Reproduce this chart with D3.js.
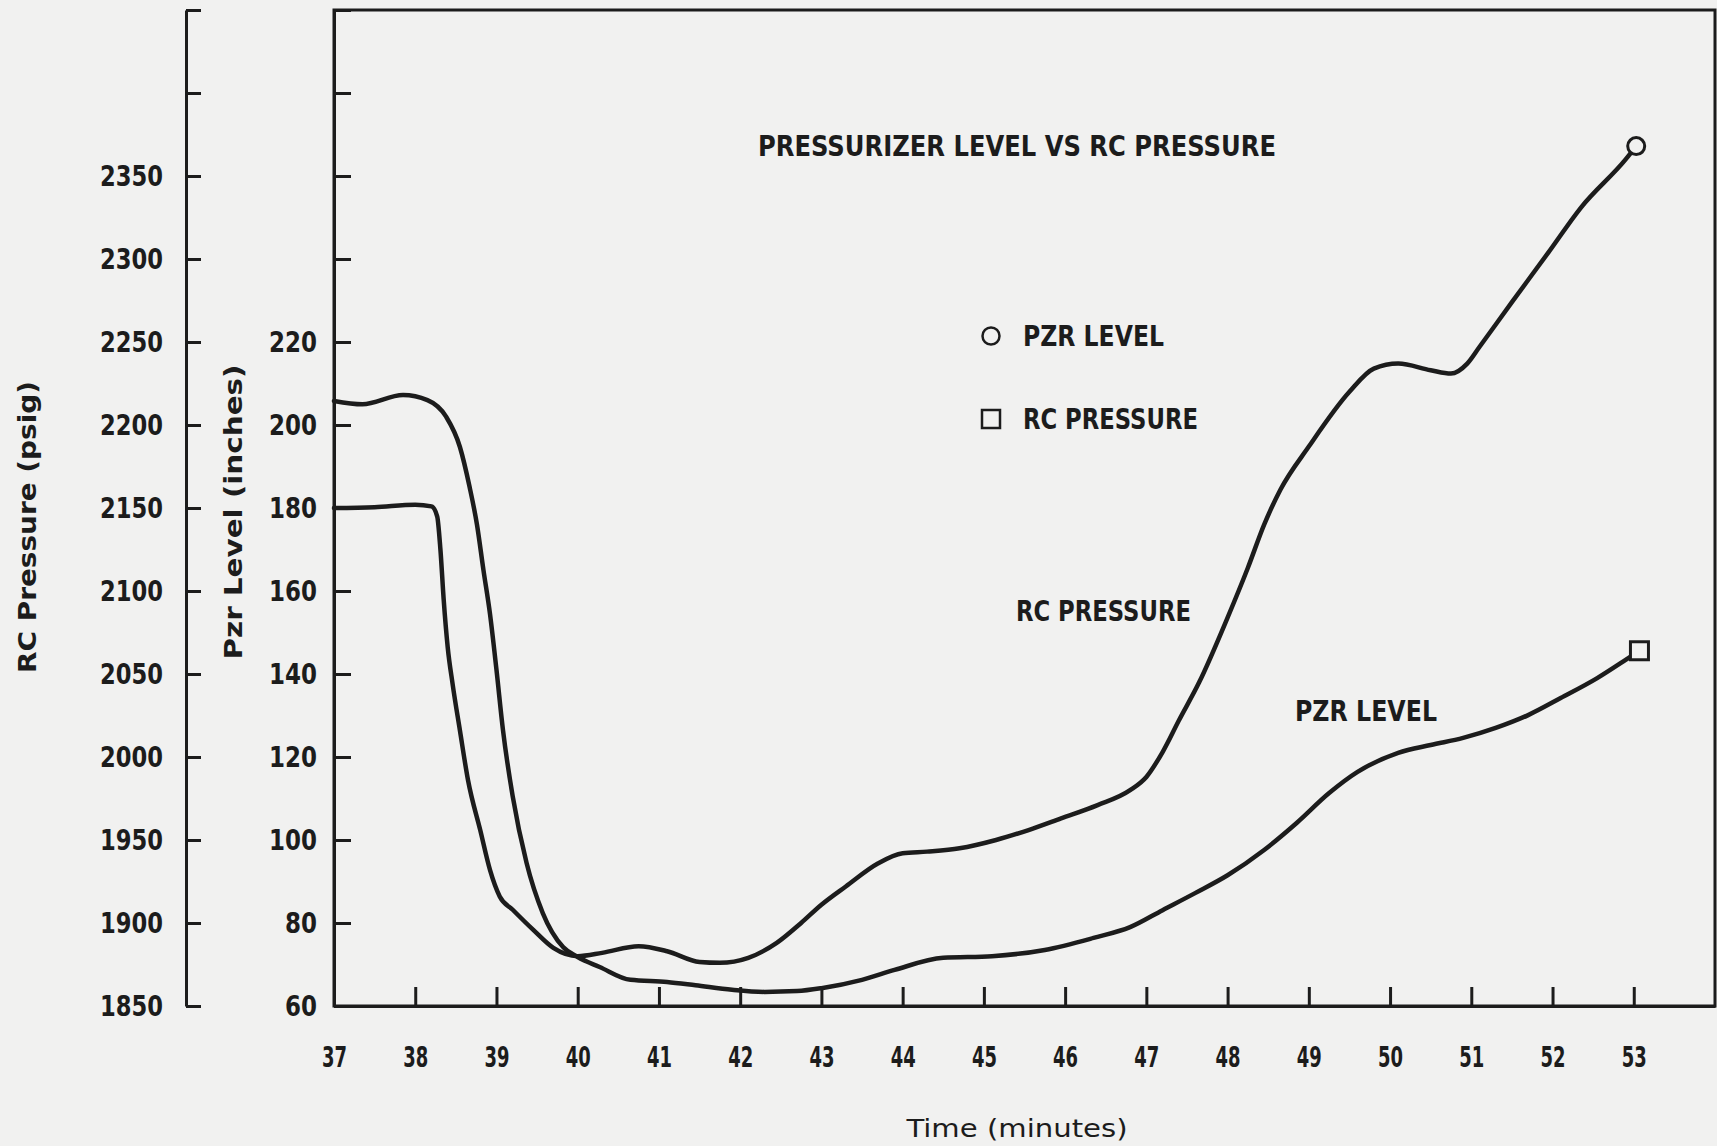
<!DOCTYPE html>
<html>
<head>
<meta charset="utf-8">
<script src="https://cdn.jsdelivr.net/npm/d3@7"></script>
<style>
  html, body { margin: 0; padding: 0; background: #f1f1f0; }
  svg { display: block; }
</style>
</head>
<body>
<svg id="chart" width="1717" height="1146"></svg>
<script>
// ---- data ----
const rcTime = [37.0, 37.5, 38.0, 38.2, 38.27, 38.31, 38.35, 38.4, 38.46, 38.55, 38.65, 38.8, 38.92, 39.04, 39.2, 39.45, 39.7, 40.0, 40.3, 40.75, 41.1, 41.5, 41.75, 42.1, 42.45, 42.75, 43.0, 43.3, 43.7, 44.0, 44.3, 44.7, 45.15, 45.55, 45.95, 46.4, 46.8, 47.0, 47.2, 47.4, 47.65, 48.0, 48.25, 48.45, 48.65, 49.0, 49.5, 49.8, 50.1, 50.5, 50.75, 50.95, 51.1, 51.5, 51.95, 52.35, 52.9, 53.03];
const rcPressure = [2150, 2150.5, 2152, 2151, 2145, 2125, 2095, 2066, 2044, 2016, 1986, 1956, 1932, 1916, 1908, 1896, 1885, 1880, 1882, 1886, 1883, 1876.5, 1876, 1879, 1888, 1900, 1911, 1922, 1936, 1942, 1943, 1945, 1950, 1956, 1963, 1971, 1980, 1988, 2003, 2022, 2045, 2084, 2114, 2140, 2161, 2187, 2220, 2234, 2237, 2233, 2231, 2237, 2247, 2274, 2304, 2331, 2360, 2368];

const pzrTime = [37.0, 37.35, 37.85, 38.15, 38.38, 38.55, 38.67, 38.76, 38.84, 38.92, 39.0, 39.08, 39.2, 39.37, 39.57, 39.82, 40.0, 40.27, 40.65, 41.1, 41.45, 41.9, 42.3, 42.7, 43.0, 43.5, 43.9, 44.5, 45.1, 45.75, 46.35, 46.8, 47.2, 47.6, 48.0, 48.45, 48.85, 49.25, 49.6, 50.1, 50.5, 50.9, 51.3, 51.7, 52.1, 52.55, 52.9, 53.07];
const pzrLevel = [205.8, 205.0, 207.2, 206, 202, 194.7, 185, 176, 165, 154.5, 141, 126.5, 110.5, 94.5, 82.4, 74.2, 71.8, 69.4, 66.3, 65.8, 65.0, 63.9, 63.4, 63.6, 64.3, 66.3, 68.7, 71.6, 72.0, 73.5, 76.4, 79, 83.1, 87.2, 91.5, 97.6, 104.1, 111.3, 116.4, 121, 122.9, 124.6, 127, 130.1, 134.2, 139, 143.4, 145.6];

const timeTicks = [37, 38, 39, 40, 41, 42, 43, 44, 45, 46, 47, 48, 49, 50, 51, 52, 53];
const pressureTickMarks = [1850, 1900, 1950, 2000, 2050, 2100, 2150, 2200, 2250, 2300, 2350, 2400, 2450];
const pressureTickLabels = [1850, 1900, 1950, 2000, 2050, 2100, 2150, 2200, 2250, 2300, 2350];
const levelTickMarks = [60, 80, 100, 120, 140, 160, 180, 200, 220, 240, 260, 280, 300];
const levelTickLabels = [60, 80, 100, 120, 140, 160, 180, 200, 220];

const titleText = "PRESSURIZER LEVEL VS RC PRESSURE";
const legendLabels = ["PZR LEVEL", "RC PRESSURE"];
const curveLabels = ["RC PRESSURE", "PZR LEVEL"];

// ---- drawing ----
const ink = "#1c1c1c";
const bg = "#f1f1f0";
const fontFam = "'Liberation Sans Narrow', 'Arial Narrow', 'DejaVu Sans Condensed', 'Liberation Sans', Arial, sans-serif";
const svg = d3.select("#chart");

const x = d3.scaleLinear().domain([37, 54]).range([334, 1715]);
const yP = d3.scaleLinear().domain([1850, 2450]).range([1006, 10]);
const yL = d3.scaleLinear().domain([60, 300]).range([1006, 10]);

// frame
svg.append("path")
  .attr("d", `M${x(37)},${yL(300)} H${x(54)} V${yL(60)} H${x(37)} Z`)
  .attr("fill", "none").attr("stroke", ink).attr("stroke-width", 3);

function styleAxis(g, sw) {
  g.select(".domain").attr("stroke", ink).attr("stroke-width", sw);
  g.selectAll(".tick line").attr("stroke", ink).attr("stroke-width", sw);
  g.selectAll(".tick text")
    .attr("fill", ink)
    .attr("font-family", fontFam)
    .attr("font-weight", "bold")
    .attr("font-size", 29);
}

// outer RC pressure axis
const gP = svg.append("g").attr("transform", "translate(186,0)")
  .call(d3.axisLeft(yP).tickValues(pressureTickMarks)
    .tickSizeInner(-15).tickSizeOuter(0).tickPadding(23)
    .tickFormat(d => pressureTickLabels.includes(d) ? String(d) : ""));
styleAxis(gP, 3);
gP.selectAll(".tick text").filter(d => pressureTickLabels.includes(d))
  .attr("textLength", 63).attr("lengthAdjust", "spacingAndGlyphs");

// inner Pzr level axis
const gL = svg.append("g").attr("transform", `translate(${x(37)},0)`)
  .call(d3.axisLeft(yL).tickValues(levelTickMarks)
    .tickSizeInner(-17).tickSizeOuter(0).tickPadding(17)
    .tickFormat(d => levelTickLabels.includes(d) ? String(d) : ""));
styleAxis(gL, 3);
gL.selectAll(".tick text").filter(d => levelTickLabels.includes(d))
  .attr("textLength", d => String(d).length * 16)
  .attr("lengthAdjust", "spacingAndGlyphs");

// time axis
const gT = svg.append("g").attr("transform", `translate(0,${yL(60)})`)
  .call(d3.axisBottom(x).tickValues(timeTicks)
    .tickSizeInner(-19).tickSizeOuter(0).tickPadding(0)
    .tickFormat(d3.format("d")));
styleAxis(gT, 3);
gT.selectAll(".tick text").attr("y", 51).attr("dy", "0.36em")
  .attr("textLength", 25).attr("lengthAdjust", "spacingAndGlyphs");

// curves
const lineRC = d3.line().x(i => x(rcTime[i])).y(i => yP(rcPressure[i])).curve(d3.curveMonotoneX);
const linePZR = d3.line().x(i => x(pzrTime[i])).y(i => yL(pzrLevel[i])).curve(d3.curveMonotoneX);

svg.append("path").attr("d", lineRC(d3.range(rcTime.length)))
  .attr("fill", "none").attr("stroke", ink).attr("stroke-width", 4.5)
  .attr("stroke-linejoin", "round").attr("stroke-linecap", "round");
svg.append("path").attr("d", linePZR(d3.range(pzrTime.length)))
  .attr("fill", "none").attr("stroke", ink).attr("stroke-width", 4.5)
  .attr("stroke-linejoin", "round").attr("stroke-linecap", "round");

// end markers
const rcLast = rcTime.length - 1;
svg.append("circle")
  .attr("cx", x(rcTime[rcLast])).attr("cy", yP(rcPressure[rcLast])).attr("r", 8.5)
  .attr("fill", bg).attr("stroke", ink).attr("stroke-width", 3);
const pzLast = pzrTime.length - 1;
svg.append("rect")
  .attr("x", x(pzrTime[pzLast]) - 9).attr("y", yL(pzrLevel[pzLast]) - 9)
  .attr("width", 18).attr("height", 18)
  .attr("fill", bg).attr("stroke", ink).attr("stroke-width", 3);

// texts
function label(txt, cx, cy, len, size, anchor, weight) {
  return svg.append("text")
    .attr("x", cx).attr("y", cy).attr("dy", "0.36em")
    .attr("text-anchor", anchor || "start")
    .attr("font-family", fontFam).attr("font-weight", weight || "bold")
    .attr("font-size", size).attr("fill", ink)
    .attr("textLength", len).attr("lengthAdjust", "spacingAndGlyphs")
    .text(txt);
}

label(titleText, 758, 146, 518, 29);

// legend
svg.append("circle").attr("cx", 991).attr("cy", 336).attr("r", 8.5)
  .attr("fill", "none").attr("stroke", ink).attr("stroke-width", 2.5);
label(legendLabels[0], 1023, 336, 141, 29);
svg.append("rect").attr("x", 982).attr("y", 410).attr("width", 18).attr("height", 18)
  .attr("fill", "none").attr("stroke", ink).attr("stroke-width", 2.5);
label(legendLabels[1], 1023, 419, 175, 29);

// curve labels
label(curveLabels[0], 1016, 611, 175, 29);
label(curveLabels[1], 1295, 711, 142, 29);

// axis titles
svg.append("text")
  .attr("transform", "translate(27,527) rotate(-90)")
  .attr("dy", "0.36em").attr("text-anchor", "middle")
  .attr("font-family", fontFam).attr("font-weight", "bold").attr("font-size", 25)
  .attr("fill", ink).attr("textLength", 292).attr("lengthAdjust", "spacingAndGlyphs")
  .text("RC Pressure (psig)");
svg.append("text")
  .attr("transform", "translate(233,512) rotate(-90)")
  .attr("dy", "0.36em").attr("text-anchor", "middle")
  .attr("font-family", fontFam).attr("font-weight", "bold").attr("font-size", 25)
  .attr("fill", ink).attr("textLength", 295).attr("lengthAdjust", "spacingAndGlyphs")
  .text("Pzr Level (inches)");
label("Time (minutes)", 1017, 1128, 221, 25, "middle", "normal");
</script>
</body>
</html>
